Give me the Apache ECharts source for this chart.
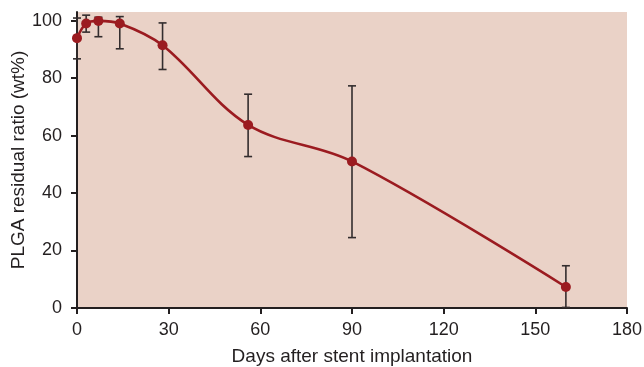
<!DOCTYPE html>
<html>
<head>
<meta charset="utf-8">
<script src="https://cdn.jsdelivr.net/npm/echarts@6/dist/echarts.min.js"></script>
<style>
html,body{margin:0;padding:0;background:#fff;}
#chart{width:644px;height:367px;}
</style>
</head>
<body>
<div id="chart"></div>
<script>
var days = [0, 3, 7, 14, 28, 56, 90, 160];
var residual = [93.9, 99.0, 99.9, 99.0, 91.4, 63.7, 51.0, 7.3];
var errUpper = [100.9, 101.9, 101.2, 101.4, 99.2, 74.4, 77.3, 14.7];
var errLower = [86.7, 96.0, 94.4, 90.2, 83.0, 52.7, 24.5, 0.2];
var xTicks = [0, 30, 60, 90, 120, 150, 180];
var yTicks = [0, 20, 40, 60, 80, 100];

var FONT = '"Liberation Sans", Arial, sans-serif';
var lineData = days.map(function (d, i) { return [d, residual[i]]; });
var errData = days.map(function (d, i) { return [d, errLower[i], errUpper[i]]; });

var chart = echarts.init(document.getElementById('chart'), null, {renderer: 'canvas'});
chart.setOption({
  animation: false,
  grid: {
    left: 77, right: 17, top: 12, bottom: 59,
    containLabel: false, outerBoundsMode: 'none',
    show: true, backgroundColor: '#ead2c7', borderWidth: 0
  },
  xAxis: {
    type: 'value', min: 0, max: 180, interval: 30,
    name: 'Days after stent implantation',
    nameLocation: 'middle', nameGap: 39, nameMoveOverlap: false,
    nameTextStyle: {fontFamily: FONT, fontSize: 19, color: '#231f20'},
    axisLine: {show: true, lineStyle: {color: '#231f20', width: 2}},
    axisTick: {show: true, length: 6, lineStyle: {color: '#231f20', width: 2}},
    axisLabel: {fontFamily: FONT, fontSize: 18, color: '#231f20', margin: 13},
    splitLine: {show: false}
  },
  yAxis: {
    type: 'value', min: 0, max: 103,
    name: 'PLGA residual ratio (wt%)',
    nameLocation: 'middle', nameGap: 49, nameMoveOverlap: false,
    nameTextStyle: {fontFamily: FONT, fontSize: 19, color: '#231f20'},
    axisLine: {show: true, lineStyle: {color: '#231f20', width: 2}},
    axisTick: {show: true, length: 6, customValues: yTicks, lineStyle: {color: '#231f20', width: 2}},
    axisLabel: {fontFamily: FONT, fontSize: 18, color: '#231f20', margin: 15, customValues: yTicks},
    splitLine: {show: false}
  },
  series: [
    {
      type: 'custom',
      z: 2,
      data: errData,
      clip: false,
      renderItem: function (params, api) {
        var x = api.value(0);
        var lo = api.coord([x, api.value(1)]);
        var hi = api.coord([x, api.value(2)]);
        var w = 4;
        var style = {stroke: '#332d2e', lineWidth: 1.6};
        return {
          type: 'group',
          children: [
            {type: 'line', shape: {x1: lo[0], y1: lo[1], x2: hi[0], y2: hi[1]}, style: style},
            {type: 'line', shape: {x1: lo[0] - w, y1: lo[1], x2: lo[0] + w, y2: lo[1]}, style: style},
            {type: 'line', shape: {x1: hi[0] - w, y1: hi[1], x2: hi[0] + w, y2: hi[1]}, style: style}
          ]
        };
      }
    },
    {
      type: 'line',
      z: 3,
      data: lineData,
      smooth: 0.35,
      clip: false,
      symbol: 'circle',
      symbolSize: 10,
      lineStyle: {color: '#9b1b20', width: 2.6},
      itemStyle: {color: '#9b1b20'}
    }
  ]
});
</script>
</body>
</html>
